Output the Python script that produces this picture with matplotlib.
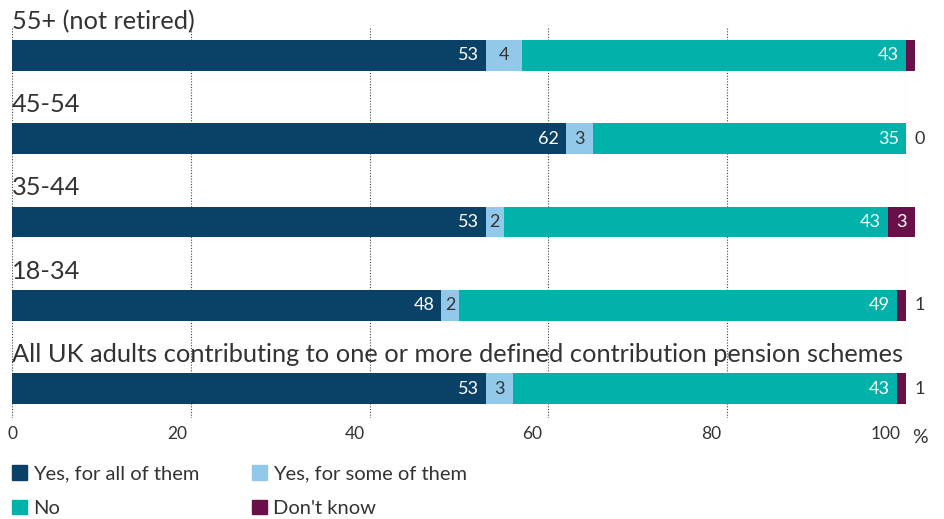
import matplotlib.pyplot as plt
from matplotlib.patches import Patch
from matplotlib.transforms import ScaledTranslation

plt.rcParams['font.family'] = ['Lato', 'DejaVu Sans']

# Respondent groups, top to bottom
groups = ['55+ (not retired)', '45-54', '35-44', '18-34',
          'All UK adults contributing to one or more defined contribution pension schemes']

answers = ['Yes, for all of them', 'Yes, for some of them', 'No', "Don't know"]
yes_all = [53, 62, 53, 48, 53]
yes_some = [4, 3, 2, 2, 3]
no = [43, 35, 43, 49, 43]
dont_know = [1, 0, 3, 1, 1]

colors = ['#0a4166', '#92c9ea', '#00b2aa', '#6a1048']
label_colors = ['white', '#333333', 'white', 'white']
text_color = '#333333'

fig = plt.figure(figsize=(9.44, 5.19), dpi=100)
ax = fig.add_axes([12 / 944, 1 - 418 / 519, 894 / 944, 390 / 519])

bar_h = 0.372
ys = range(len(groups))
series = [yes_all, yes_some, no, dont_know]

left = [0] * len(groups)
for k, vals in enumerate(series):
    ax.barh(ys, vals, left=left, height=bar_h, color=colors[k], zorder=2, clip_on=False)
    for i, v in enumerate(vals):
        end = left[i] + v
        if v >= 2:
            if k in (1, 3):
                ax.text(left[i] + v / 2, i, str(v), ha='center', va='center',
                        fontsize=13, color=label_colors[k], zorder=3)
            else:
                ax.annotate(str(v), (end, i), xytext=(-5, 0), textcoords='offset points',
                            ha='right', va='center', fontsize=13,
                            color=label_colors[k], zorder=3)
        elif k == 3:
            ax.annotate(str(v), (end, i), xytext=(6, 0), textcoords='offset points',
                        ha='left', va='center', fontsize=13, color=text_color)
        left[i] = end

# group titles above each bar
for i, g in enumerate(groups):
    ax.annotate(g, (0, i - bar_h / 2), xytext=(0, 8), textcoords='offset points',
                ha='left', va='baseline', fontsize=18.3, color=text_color)

ax.set_xlim(0, 100)
ax.set_ylim(len(groups) - 1 + 0.354, -0.33)
ax.set_xticks([0, 20, 40, 60, 80, 100])
ax.tick_params(axis='x', length=0, pad=6, labelsize=12.5, labelcolor=text_color)
# tick labels sit a little left of their gridlines
shifts = [0, -14, -15, -16, -16, -20]
for lab, dx in zip(ax.get_xticklabels(), shifts):
    lab.set_transform(lab.get_transform() + ScaledTranslation(dx / 100, 0, fig.dpi_scale_trans))
ax.set_yticks([])
for s in ax.spines.values():
    s.set_visible(False)
ax.grid(axis='x', color='#444444', linestyle=(0, (1, 1.5)), linewidth=0.8, zorder=0)
ax.set_axisbelow(True)
ax.text(1.007, -0.027, '%', transform=ax.transAxes, ha='left', va='top',
        fontsize=14, color=text_color)

handles = [Patch(color=colors[i]) for i in (0, 2, 1, 3)]
labels = [answers[i] for i in (0, 2, 1, 3)]
fig.legend(handles, labels, loc='upper left', bbox_to_anchor=(12 / 944, 1 - 465 / 519),
           ncol=2, frameon=False, fontsize=14.5, labelcolor=text_color,
           handlelength=0.75, handleheight=0.75, handletextpad=0.3,
           columnspacing=2.6, labelspacing=0.85, borderpad=0, borderaxespad=0)

fig.savefig('out.png', dpi=100)
